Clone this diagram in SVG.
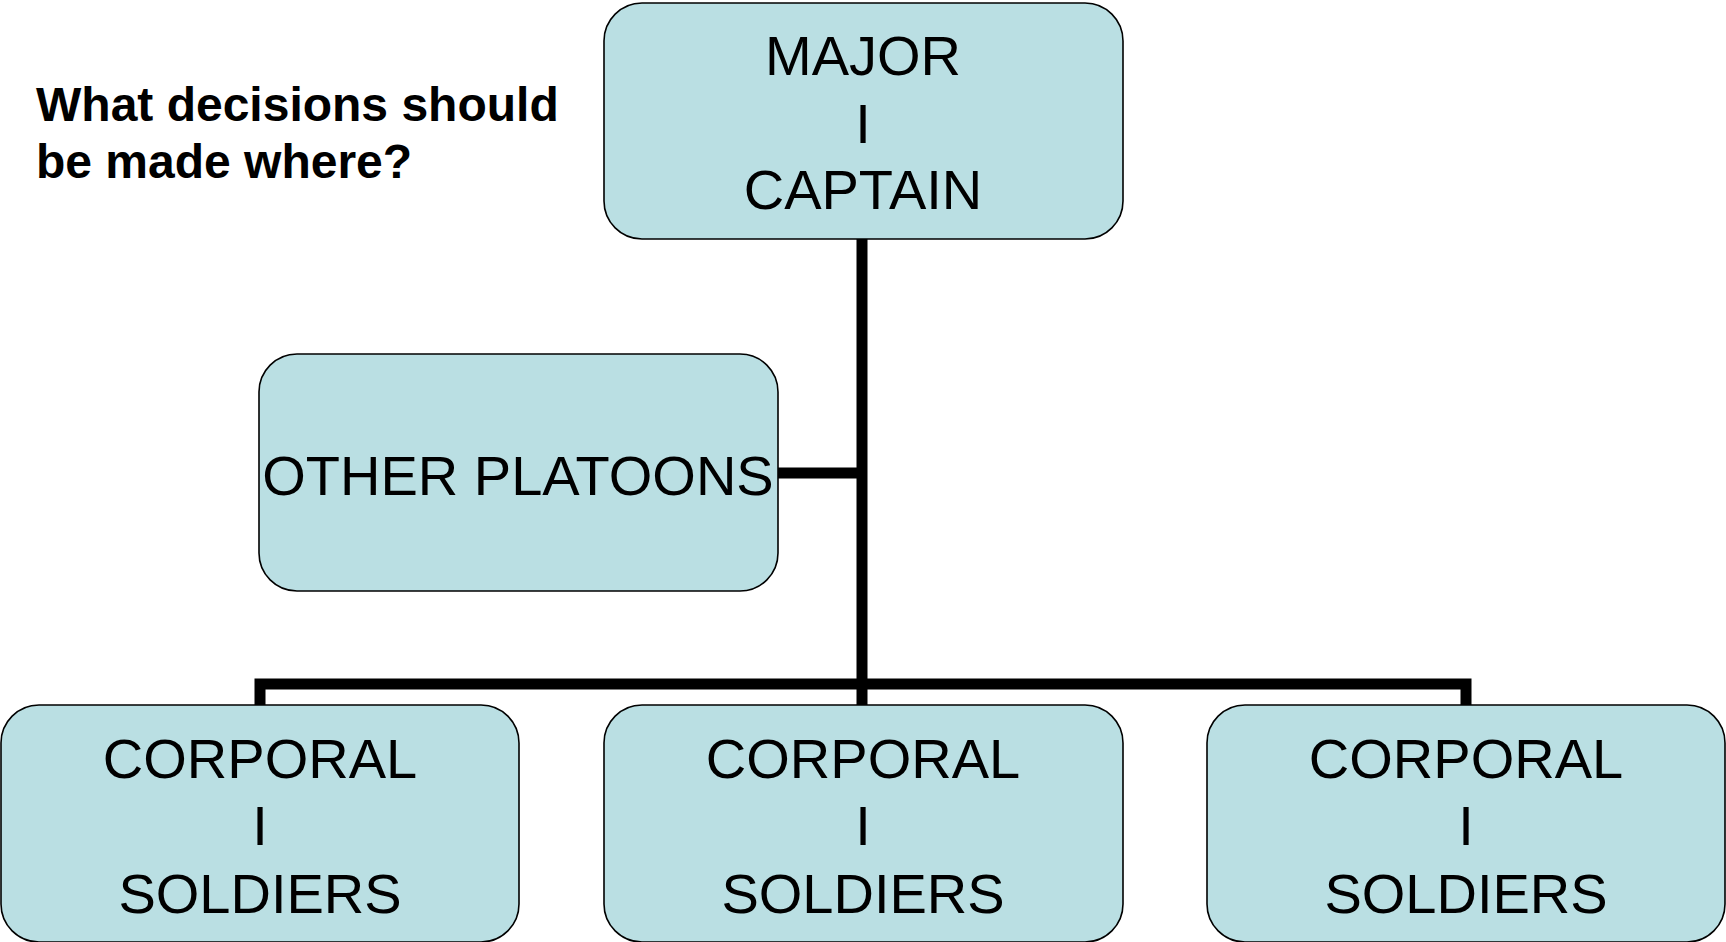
<svg xmlns="http://www.w3.org/2000/svg" width="1726" height="942" viewBox="0 0 1726 942">
<style>
.box{fill:#BADFE3;stroke:#000;stroke-width:1.6}
.lbl{font-family:"Liberation Sans",Arial,sans-serif;font-size:56px;fill:#000;text-anchor:middle}
.conn{fill:none;stroke:#000;stroke-width:11;stroke-linecap:butt;stroke-linejoin:miter}
.title{font-family:"Liberation Sans",Arial,sans-serif;font-size:48px;font-weight:bold;fill:#000}
</style>
<rect width="1726" height="942" fill="#fff"/>
<text class="title"><tspan x="36" y="121">What decisions should</tspan><tspan x="36" y="178">be made where?</tspan></text>
<g id="connectors">
<path class="conn" d="M862 239 V706"/>
<path class="conn" d="M778 473 H862"/>
<path class="conn" d="M260 706 V684 H1466 V706"/>
</g>
<g id="major">
<rect class="box" x="604" y="3" width="519" height="236" rx="38"/>
<text class="lbl" x="863" y="75">MAJOR</text>
<text class="lbl" x="863" y="143">I</text>
<text class="lbl" x="863" y="209">CAPTAIN</text>
</g>
<g id="other">
<rect class="box" x="259" y="354" width="519" height="237" rx="38"/>
<text class="lbl" x="518" y="495">OTHER PLATOONS</text>
</g>
<g id="corp1">
<rect class="box" x="1" y="705" width="518" height="237" rx="38"/>
<text class="lbl" x="260" y="778">CORPORAL</text>
<text class="lbl" x="260" y="845">I</text>
<text class="lbl" x="260" y="913">SOLDIERS</text>
</g>
<g id="corp2">
<rect class="box" x="604" y="705" width="519" height="237" rx="38"/>
<text class="lbl" x="863" y="778">CORPORAL</text>
<text class="lbl" x="863" y="845">I</text>
<text class="lbl" x="863" y="913">SOLDIERS</text>
</g>
<g id="corp3">
<rect class="box" x="1207" y="705" width="518" height="237" rx="38"/>
<text class="lbl" x="1466" y="778">CORPORAL</text>
<text class="lbl" x="1466" y="845">I</text>
<text class="lbl" x="1466" y="913">SOLDIERS</text>
</g>
</svg>
